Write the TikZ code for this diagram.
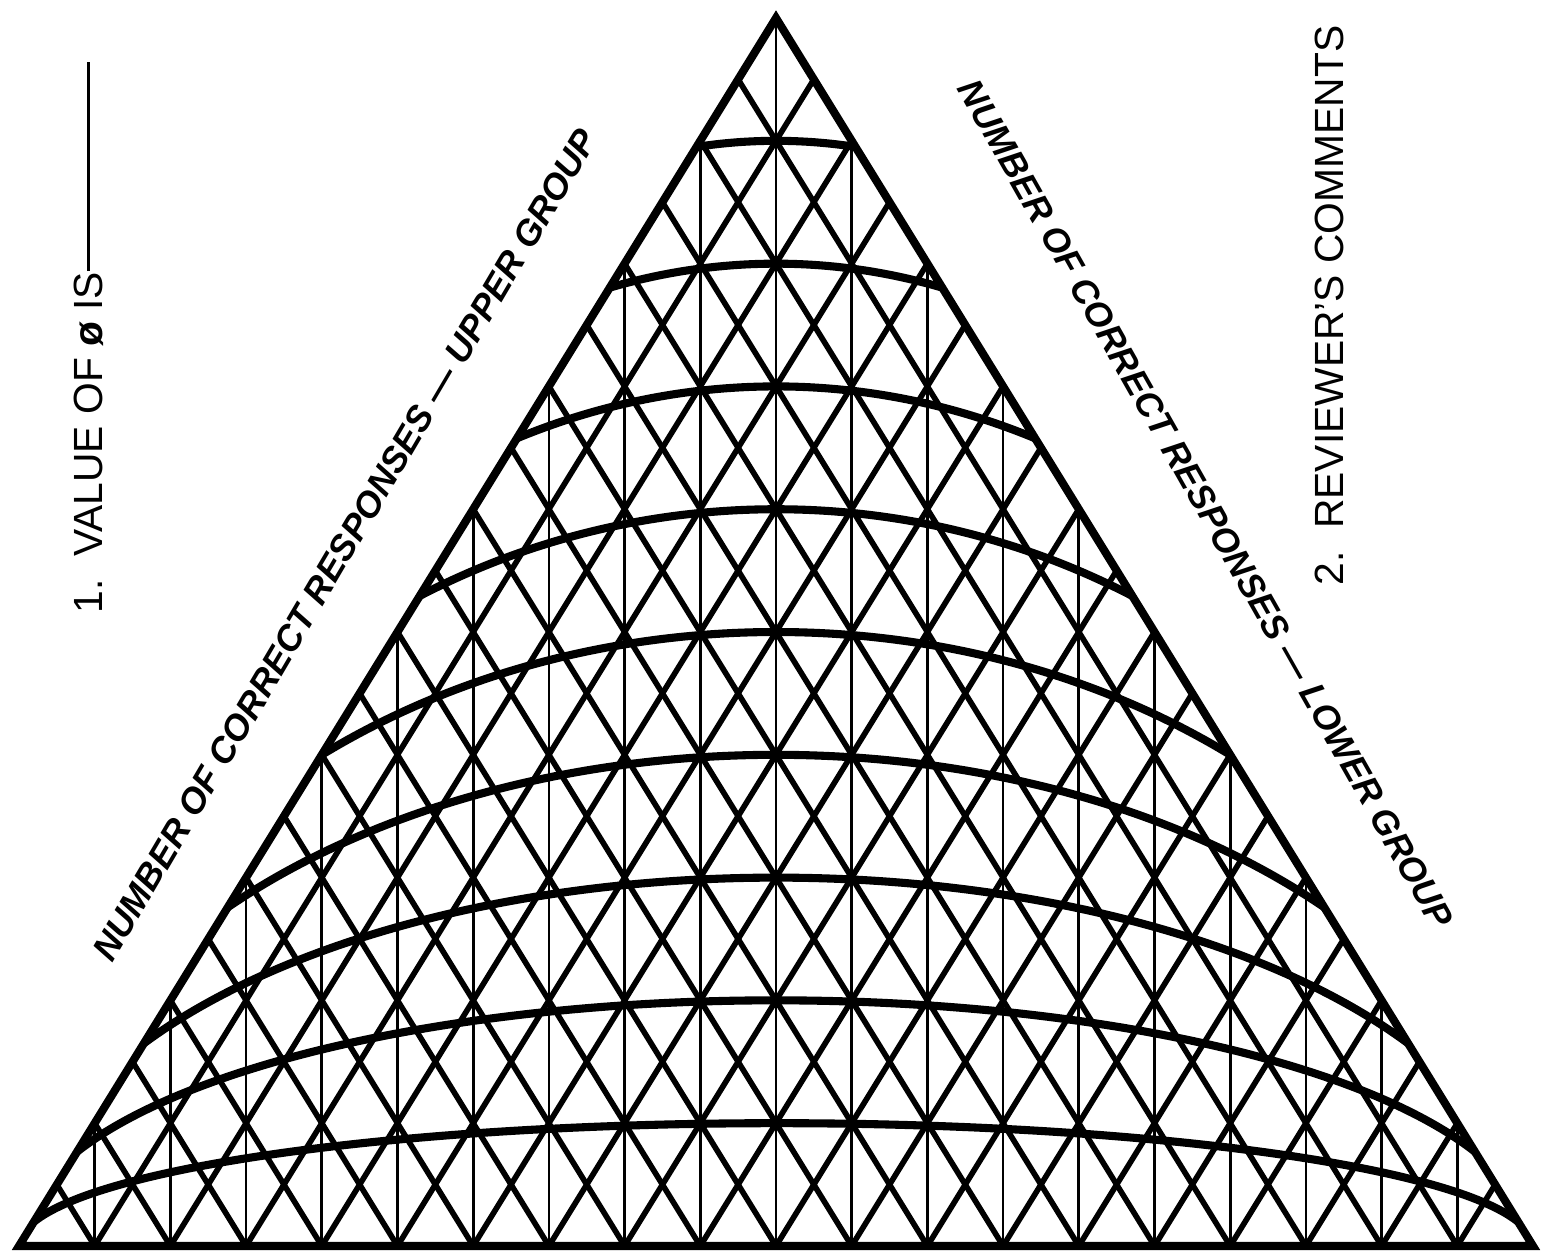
\documentclass[tikz,border=0pt]{standalone}
\usepackage{fontspec}
\setmainfont{Liberation Sans}
\usetikzlibrary{positioning}

\begin{document}
\begin{tikzpicture}[line cap=butt]

% --- Style Definitions ---
% Outline of the triangle
\tikzstyle{tri_side}=[line width=2.3pt, line join=miter]
% Lines of constant count (upper / lower group)
\tikzstyle{grid_diag}=[line width=1.6pt, line join=miter]
% Lines of constant difficulty
\tikzstyle{grid_vert}=[line width=0.75pt]
% Curves of constant phi
\tikzstyle{phi_arc}=[line width=2.3pt]
% Texts
\tikzstyle{side_label}=[inner sep=0pt, font=\fontsize{10.2}{12}\selectfont\bfseries\itshape]
\tikzstyle{axis_label}=[inner sep=0pt, rotate=90, anchor=west, font=\fontsize{11.6}{13}\selectfont]
\tikzstyle{blank_line}=[line width=0.9pt]

\useasboundingbox (0,0) rectangle (15.46,12.56);

\def\W{15.14}
\def\H{12.28}

% --- 1. The Triangle Nomograph ---
\begin{scope}[shift={(0.19,0.10)}]
\coordinate (left_corner) at (0,0);
\coordinate (right_corner) at (\W,0);
\coordinate (apex) at (\W/2,\H);

\begin{scope}
\clip (left_corner) -- (apex) -- (right_corner) -- cycle;
% verticals from base to side
\foreach \j in {1,...,19} {
  \pgfmathsetmacro\vlen{min(\j,20-\j)/10*\H}
  \draw[grid_vert] ({\j*\W/20},0) -- ({\j*\W/20},\vlen);
}
% diagonals (upper count down to base, lower count up to right side)
\foreach \k in {1,...,19} {
  \draw[grid_diag] ({\k*\W/40},{\k*\H/20}) -- ({\k*\W/20},0) -- ({(20+\k)*\W/40},{(20-\k)*\H/20});
}
% phi = .1 ... .9
\foreach \p in {1,...,9} {
  \pgfmathsetmacro\a{2*atan(\p/10)}
  \draw[phi_arc] ({\W/2+\W/2*cos(\a)},{\p/10*\H*sin(\a)}) arc[start angle=\a, end angle=180-\a, x radius=\W/2, y radius=\p/10*\H];
}
\end{scope}

\draw[tri_side] (left_corner) -- (apex) -- (right_corner) -- cycle;
\end{scope}

% --- 2. Side Labels ---
\node[side_label, rotate=59.5] (upper_lbl) at (3.45,7.11) {NUMBER OF CORRECT RESPONSES — UPPER GROUP};
\node[side_label, rotate=-60.5] (lower_lbl) at (12.06,7.52) {NUMBER OF CORRECT RESPONSES — LOWER GROUP};

% --- 3. Questions ---
\node[axis_label] (phi_lbl) at (0.885,6.42) {1.\ \ VALUE OF {\bfseries ø} IS};
\coordinate (blank_top) at (0.885,11.94);
\draw[blank_line] (phi_lbl.east) -- (phi_lbl.east |- blank_top);

\node[axis_label] (review_lbl) at (13.29,6.70) {2.\ \ REVIEWER’S COMMENTS};

\end{tikzpicture}
\end{document}
